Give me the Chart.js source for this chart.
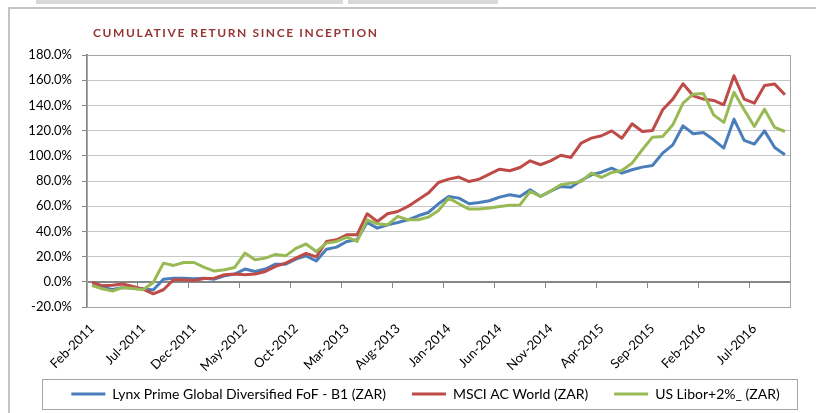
<!DOCTYPE html>
<html lang="en">
<head>
<meta charset="UTF-8">
<title>Cumulative Return Since Inception</title>
<script src="https://cdn.jsdelivr.net/npm/chart.js"></script>
<style>
  html, body { margin: 0; padding: 0; background: #fff; }
  .wrap { position: relative; width: 816px; height: 413px; }
</style>
</head>
<body>
<div class="wrap"><canvas id="cumChart"></canvas></div>
<script>
// monthly categories, Feb-2011 .. Oct-2016
const months = [
  'Feb-2011','Mar-2011','Apr-2011','May-2011','Jun-2011','Jul-2011','Aug-2011','Sep-2011','Oct-2011','Nov-2011','Dec-2011',
  'Jan-2012','Feb-2012','Mar-2012','Apr-2012','May-2012','Jun-2012','Jul-2012','Aug-2012','Sep-2012','Oct-2012','Nov-2012','Dec-2012',
  'Jan-2013','Feb-2013','Mar-2013','Apr-2013','May-2013','Jun-2013','Jul-2013','Aug-2013','Sep-2013','Oct-2013','Nov-2013','Dec-2013',
  'Jan-2014','Feb-2014','Mar-2014','Apr-2014','May-2014','Jun-2014','Jul-2014','Aug-2014','Sep-2014','Oct-2014','Nov-2014','Dec-2014',
  'Jan-2015','Feb-2015','Mar-2015','Apr-2015','May-2015','Jun-2015','Jul-2015','Aug-2015','Sep-2015','Oct-2015','Nov-2015','Dec-2015',
  'Jan-2016','Feb-2016','Mar-2016','Apr-2016','May-2016','Jun-2016','Jul-2016','Aug-2016','Sep-2016','Oct-2016'
];

// cumulative return, %
const lynxFund = [
  -2.5, -4.5, -6.0, -4.5, -5.0, -5.5, -6.5, 2.1, 2.9, 2.9,
  2.4, 2.9, 2.1, 4.8, 6.1, 10.1, 8.2, 10.1, 14.0, 14.0,
  18.0, 20.6, 16.5, 25.9, 27.5, 32.0, 33.3, 47.1, 42.6, 45.2,
  47.1, 49.2, 52.4, 55.0, 61.9, 67.7, 66.4, 61.9, 62.9, 64.3,
  67.2, 69.1, 67.7, 73.0, 67.7, 72.0, 75.7, 75.1, 80.4, 84.9,
  87.0, 90.2, 86.2, 88.9, 91.0, 92.3, 102.1, 108.7, 123.8, 117.5,
  118.5, 112.7, 106.1, 129.1, 112.2, 109.3, 119.8, 106.6, 100.8
];
const msciWorld = [
  -0.3, -3.2, -2.8, -1.8, -3.7, -5.8, -9.5, -6.3, 1.6, 1.6,
  1.0, 2.6, 2.9, 5.6, 6.1, 5.6, 6.1, 8.2, 12.2, 14.8,
  18.8, 22.5, 19.8, 32.0, 33.3, 37.3, 37.3, 54.0, 47.9, 54.0,
  55.8, 59.8, 65.1, 70.4, 78.8, 81.5, 83.1, 79.6, 81.5, 85.5,
  89.4, 88.1, 90.7, 96.0, 92.9, 96.0, 100.4, 98.7, 110.1, 114.0,
  115.9, 119.8, 114.0, 125.4, 119.3, 120.1, 136.5, 145.0, 157.2, 147.6,
  145.0, 143.9, 140.5, 163.5, 145.0, 141.8, 155.8, 156.9, 148.4
];
const usLibor = [
  -2.9, -5.5, -7.4, -4.5, -5.3, -6.3, -0.5, 14.8, 13.0, 15.3,
  15.3, 11.4, 8.5, 9.5, 11.4, 22.8, 17.5, 18.8, 21.7, 20.6,
  26.5, 30.0, 24.0, 30.7, 32.0, 35.4, 32.0, 49.2, 46.0, 45.2,
  51.9, 49.2, 49.2, 51.3, 56.6, 66.4, 61.9, 57.7, 57.7, 58.5,
  59.8, 60.8, 61.0, 71.7, 67.7, 72.0, 77.0, 78.3, 79.6, 86.3,
  82.8, 86.8, 88.3, 94.2, 104.8, 114.8, 115.3, 124.6, 141.8, 148.9,
  149.5, 132.5, 126.5, 150.5, 136.5, 123.3, 137.0, 122.5, 119.3
];

const seriesNames = ['Lynx Prime Global Diversified FoF - B1 (ZAR)', 'MSCI AC World (ZAR)', 'US Libor+2%_ (ZAR)'];
const yMin = -20, yMax = 180, yStep = 20;
const labelEvery = 5;

Chart.defaults.font.family = 'Lato, "Open Sans", sans-serif';
Chart.defaults.color = '#000';

// frame, title and legend box around the chart
const decor = {
  id: 'decor',
  afterLayout(chart) {
    // the legend row sits inside its own box, a bit right of centre
    const lg = chart.legend;
    lg.left = 35;
    lg.right = 816;
    lg.top = 361;
    lg.bottom = 411;
  },
  beforeDraw(chart) {
    const ctx = chart.ctx;
    ctx.save();
    ctx.fillStyle = '#fff';
    ctx.fillRect(0, 0, chart.width, chart.height);
    ctx.fillStyle = '#d9d9d9';
    ctx.fillRect(36, 0, 307, 4);
    ctx.fillRect(348, 0, 150, 4);
    ctx.fillStyle = '#c4c4c4';
    ctx.fillRect(8, 7, chart.width - 8, 2);
    ctx.fillRect(8, 7, 2, chart.height - 7);
    ctx.restore();
  },
  beforeDatasetsDraw(chart) {
    const {ctx, chartArea: a} = chart;
    ctx.save();
    ctx.strokeStyle = '#a6a6a6';
    ctx.lineWidth = 1;
    ctx.strokeRect(a.left + 0.5, a.top + 0.5, a.right - a.left, a.bottom - a.top);
    ctx.restore();
  },
  afterDraw(chart) {
    const ctx = chart.ctx;
    ctx.save();
    const title = 'CUMULATIVE RETURN SINCE INCEPTION';
    ctx.font = 'bold 12px Lato';
    ctx.fillStyle = '#953735';
    ctx.textBaseline = 'middle';
    const w = ctx.measureText(title).width;
    ctx.letterSpacing = ((284 - w) / (title.length - 1)).toFixed(2) + 'px';
    ctx.fillText(title, 93, 33);
    ctx.letterSpacing = '0px';
    ctx.strokeStyle = '#a6a6a6';
    ctx.lineWidth = 1;
    ctx.strokeRect(42.5, 379.5, 755, 30);
    ctx.restore();
  }
};

new Chart(document.getElementById('cumChart'), {
  type: 'line',
  data: {
    labels: months,
    datasets: [
      { label: seriesNames[0], data: lynxFund, borderColor: '#4a7ebb', backgroundColor: '#4a7ebb', borderWidth: 3, order: 3 },
      { label: seriesNames[1], data: msciWorld, borderColor: '#be4b48', backgroundColor: '#be4b48', borderWidth: 3, order: 2 },
      { label: seriesNames[2], data: usLibor, borderColor: '#98b954', backgroundColor: '#98b954', borderWidth: 3, order: 1 }
    ]
  },
  options: {
    responsive: true,
    maintainAspectRatio: false,
    animation: false,
    layout: { padding: { left: 0, right: 26, top: 55, bottom: -8 } },
    elements: {
      line: { borderWidth: 3, tension: 0, borderJoinStyle: 'round' },
      point: { radius: 0 }
    },
    plugins: {
      title: { display: false },
      tooltip: { enabled: false },
      legend: {
        position: 'bottom',
        labels: {
          usePointStyle: true,
          pointStyle: 'line',
          pointStyleWidth: 34,
          padding: 26,
          font: { size: 14 },
          color: '#000',
          sort: (a, b) => a.datasetIndex - b.datasetIndex
        }
      }
    },
    scales: {
      x: {
        type: 'category',
        offset: true,
        grid: { display: false },
        border: { display: false },
        ticks: {
          autoSkip: false,
          maxRotation: 45,
          minRotation: 45,
          padding: 6,
          font: { size: 13 },
          callback: function (v, i) { return i % labelEvery === 0 ? this.getLabelForValue(v) : ''; }
        },
        afterFit: (s) => { s.height = 64; }
      },
      x2: {
        type: 'category',
        axis: 'x',
        position: { y: 0 },
        offset: true,
        ticks: { display: false },
        grid: {
          offset: true,
          drawOnChartArea: false,
          tickLength: 5,
          lineWidth: 1,
          tickColor: (c) => (c.index % labelEvery === 0 ? '#868686' : 'transparent')
        },
        border: { color: '#868686', width: 2 }
      },
      y: {
        min: yMin,
        max: yMax,
        ticks: {
          stepSize: yStep,
          padding: 10,
          font: { size: 13 },
          callback: (v) => v.toFixed(1) + '%'
        },
        grid: { color: '#c6c6c6', tickColor: '#868686', tickLength: 5 },
        border: { color: '#868686', width: 2 },
        afterFit: (s) => { s.width = 87; }
      }
    }
  },
  plugins: [decor]
});
</script>
</body>
</html>
